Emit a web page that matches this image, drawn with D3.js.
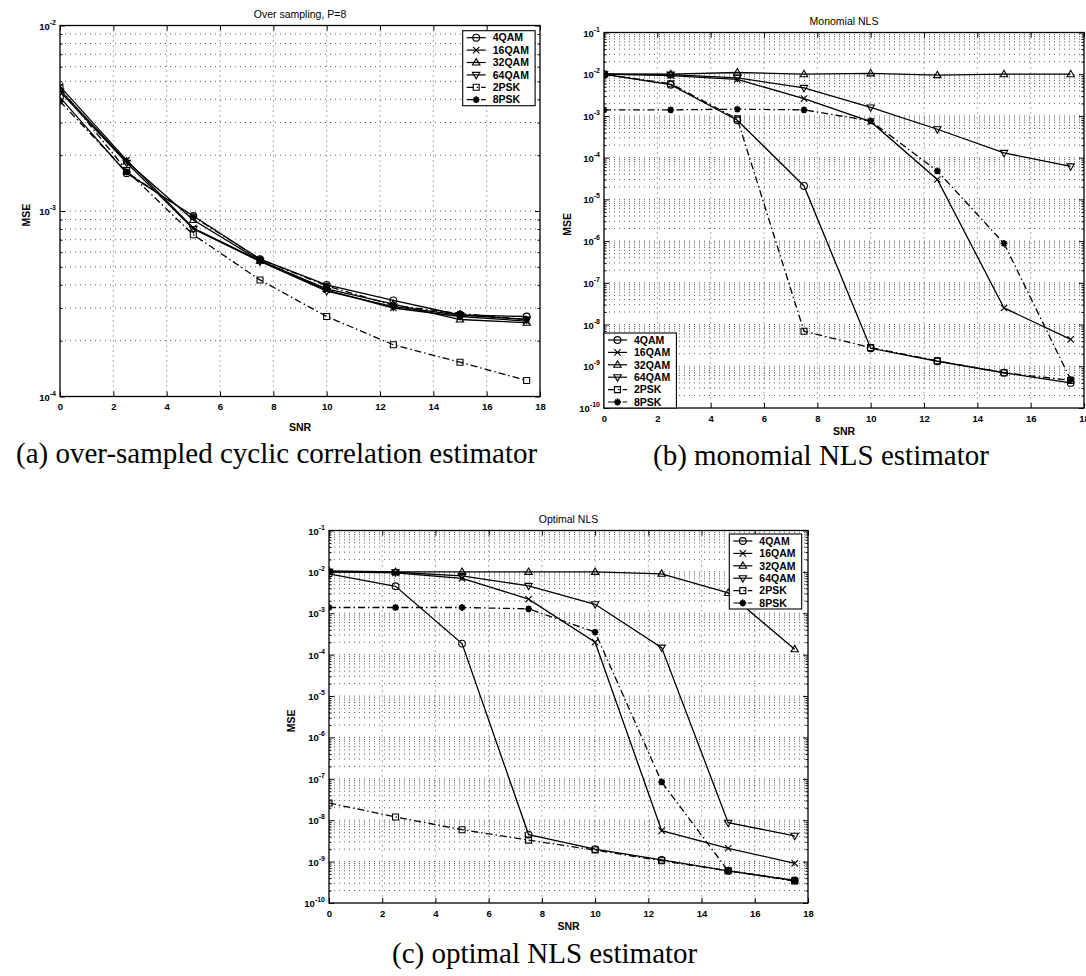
<!DOCTYPE html>
<html>
<head>
<meta charset="utf-8">
<script src="https://cdn.jsdelivr.net/npm/d3@7"></script>
<style>
  body { margin: 0; background: #fff; }
  svg { display: block; font-family: "Liberation Sans", Arial, sans-serif; }
  .grid { stroke: #333; stroke-width: 0.8; stroke-dasharray: 1,4; }
  .caption { font-family: "Liberation Serif", "Times New Roman", serif; font-size: 29px; }
</style>
</head>
<body>
<svg id="chart" width="1086" height="976"></svg>
<script>
// SNR values (x) shared by every panel
const snr = [0, 2.5, 5, 7.5, 10, 12.5, 15, 17.5];
const seriesNames = ["4QAM", "16QAM", "32QAM", "64QAM", "2PSK", "8PSK"];
const xTicks = [0, 2, 4, 6, 8, 10, 12, 14, 16, 18];

// (a) over-sampled cyclic correlation, one row per series (seriesNames order)
const overMSE = [
  [4.1e-3, 1.6e-3, 9.4e-4, 5.5e-4, 4.0e-4, 3.3e-4, 2.75e-4, 2.7e-4],
  [4.7e-3, 1.88e-3, 8.1e-4, 5.4e-4, 3.75e-4, 3.0e-4, 2.7e-4, 2.55e-4],
  [4.5e-3, 1.85e-3, 8.95e-4, 5.4e-4, 3.8e-4, 3.15e-4, 2.6e-4, 2.5e-4],
  [4.4e-3, 1.82e-3, 8.0e-4, 5.35e-4, 3.7e-4, 3.05e-4, 2.75e-4, 2.6e-4],
  [4.6e-3, 1.65e-3, 7.45e-4, 4.25e-4, 2.7e-4, 1.9e-4, 1.53e-4, 1.22e-4],
  [3.9e-3, 1.62e-3, 9.3e-4, 5.5e-4, 3.95e-4, 3.1e-4, 2.8e-4, 2.6e-4]
];
const overExps = [-4, -3, -2];

// (b) monomial NLS
const monoMSE = [
  [1.0e-2, 5.6e-3, 7.9e-4, 2.1e-5, 2.7e-9, 1.32e-9, 7.0e-10, 4.0e-10],
  [1.0e-2, 9.3e-3, 7.5e-3, 2.6e-3, 7.3e-4, 3.0e-5, 2.5e-8, 4.4e-9],
  [1.0e-2, 1.0e-2, 1.1e-2, 1.0e-2, 1.05e-2, 9.5e-3, 1.0e-2, 1.0e-2],
  [1.0e-2, 9.8e-3, 8.2e-3, 4.7e-3, 1.6e-3, 4.8e-4, 1.3e-4, 6.2e-5],
  [1.0e-2, 5.9e-3, 8.5e-4, 6.9e-9, 2.8e-9, 1.35e-9, 7.0e-10, 4.6e-10],
  [1.4e-3, 1.4e-3, 1.45e-3, 1.4e-3, 7.6e-4, 4.8e-5, 8.8e-7, 4.8e-10]
];

// (c) optimal NLS
const optMSE = [
  [9.0e-3, 4.5e-3, 1.85e-4, 4.5e-9, 2.0e-9, 1.1e-9, 6.0e-10, 3.5e-10],
  [1.0e-2, 9.5e-3, 7.0e-3, 2.2e-3, 2.0e-4, 5.6e-9, 2.1e-9, 9.1e-10],
  [1.05e-2, 1.0e-2, 1.0e-2, 1.0e-2, 1.0e-2, 9.0e-3, 3.1e-3, 1.35e-4],
  [1.0e-2, 9.8e-3, 8.0e-3, 4.6e-3, 1.65e-3, 1.48e-4, 8.7e-9, 4.2e-9],
  [2.6e-8, 1.2e-8, 5.9e-9, 3.3e-9, 1.9e-9, 1.05e-9, 6.0e-10, 3.4e-10],
  [1.38e-3, 1.38e-3, 1.38e-3, 1.28e-3, 3.5e-4, 8.4e-8, 6.0e-10, 3.5e-10]
];
const nlsExps = [-10, -9, -8, -7, -6, -5, -4, -3, -2, -1];

const svg = d3.select("#chart");
const defs = svg.append("defs");

// marker outlines, centred on 0,0
const markerPath = {
  "4QAM": d3.symbol(d3.symbolCircle, 36)(),
  "16QAM": "M-3.2,-3.2L3.2,3.2M-3.2,3.2L3.2,-3.2",
  "32QAM": "M0,-3.9L3.7,2.5L-3.7,2.5Z",
  "64QAM": "M0,3.9L3.7,-2.5L-3.7,-2.5Z",
  "2PSK": "M-3,-3H3V3H-3Z",
  "8PSK": "M0,-3.4V3.4M-3.4,0H3.4M-2.4,-2.4L2.4,2.4M-2.4,2.4L2.4,-2.4"
};
const dashOf = name => name.endsWith("PSK") ? "7,3,1.5,3" : null;

function drawMarker(sel, name) {
  sel.append("path")
    .attr("d", markerPath[name])
    .attr("fill", "none")
    .attr("stroke", "#000")
    .attr("stroke-width", name === "8PSK" ? 1.8 : 1.1);
}

function drawPanel(p, mse) {
  const x = d3.scaleLinear().domain([0, 18]).range([p.left, p.right]);
  const y = d3.scaleLog()
    .domain([Math.pow(10, p.exps[0]), Math.pow(10, p.exps[p.exps.length - 1])])
    .range([p.bottom, p.top]);
  const decades = p.exps.map(e => Math.pow(10, e));
  const minors = [];
  p.exps.slice(0, -1).forEach(e => d3.range(2, 10).forEach(k => minors.push(k * Math.pow(10, e))));

  const g = svg.append("g");

  defs.append("clipPath").attr("id", "clip-" + p.id)
    .append("rect")
    .attr("x", p.left).attr("y", p.top)
    .attr("width", p.right - p.left).attr("height", p.bottom - p.top);

  // dotted grid
  g.append("g").selectAll("line").data(xTicks.slice(1, -1)).join("line")
    .attr("class", "grid")
    .attr("x1", d => x(d)).attr("x2", d => x(d))
    .attr("y1", p.top).attr("y2", p.bottom);
  g.append("g").selectAll("line").data(decades.slice(1, -1).concat(minors)).join("line")
    .attr("class", "grid")
    .attr("x1", p.left).attr("x2", p.right)
    .attr("y1", d => y(d)).attr("y2", d => y(d));

  // inward ticks on all four sides
  const axes = g.append("g");
  axes.append("g").attr("transform", `translate(0,${p.bottom})`)
    .call(d3.axisBottom(x).tickValues(xTicks).tickSize(-5).tickSizeOuter(0).tickPadding(7));
  axes.append("g").attr("transform", `translate(0,${p.top})`)
    .call(d3.axisTop(x).tickValues(xTicks).tickSize(-5).tickSizeOuter(0).tickFormat(""));
  axes.append("g").attr("transform", `translate(${p.left},0)`)
    .call(d3.axisLeft(y).tickValues(decades).tickSize(-5).tickSizeOuter(0).tickFormat(""));
  axes.append("g").attr("transform", `translate(${p.left},0)`)
    .call(d3.axisLeft(y).tickValues(minors).tickSize(-2.5).tickSizeOuter(0).tickFormat(""));
  axes.append("g").attr("transform", `translate(${p.right},0)`)
    .call(d3.axisRight(y).tickValues(decades).tickSize(-5).tickSizeOuter(0).tickFormat(""));
  axes.append("g").attr("transform", `translate(${p.right},0)`)
    .call(d3.axisRight(y).tickValues(minors).tickSize(-2.5).tickSizeOuter(0).tickFormat(""));
  axes.selectAll(".domain").remove();
  axes.selectAll(".tick line").attr("stroke", "#000");
  axes.selectAll(".tick text")
    .attr("font-family", "Liberation Sans, Arial, sans-serif")
    .attr("font-size", 9.5).attr("font-weight", "bold").attr("fill", "#000");

  // y labels as 10 with superscript exponent
  const lab = g.append("g").selectAll("text").data(p.exps).join("text")
    .attr("x", p.left - 4)
    .attr("y", d => y(Math.pow(10, d)) + 4)
    .attr("text-anchor", "end")
    .attr("font-size", 9.5).attr("font-weight", "bold");
  lab.append("tspan").text("10");
  lab.append("tspan").attr("dy", -5).attr("font-size", 7).text(d => "-" + (-d));

  // box
  g.append("rect")
    .attr("x", p.left).attr("y", p.top)
    .attr("width", p.right - p.left).attr("height", p.bottom - p.top)
    .attr("fill", "none").attr("stroke", "#000").attr("stroke-width", 1.3);

  // series
  const line = d3.line().x((d, i) => x(snr[i])).y(d => y(d));
  const plot = g.append("g").attr("clip-path", `url(#clip-${p.id})`);
  mse.forEach((vals, s) => {
    const name = seriesNames[s];
    plot.append("path").datum(vals)
      .attr("d", line)
      .attr("fill", "none").attr("stroke", "#000").attr("stroke-width", 1.3)
      .attr("stroke-dasharray", dashOf(name));
    plot.append("g").selectAll("g").data(vals).join("g")
      .attr("transform", (d, i) => `translate(${x(snr[i])},${y(d)})`)
      .each(function() { drawMarker(d3.select(this), name); });
  });

  // legend
  const lg = g.append("g").attr("transform", `translate(${p.legend[0]},${p.legend[1]})`);
  lg.append("rect").attr("width", 72.4).attr("height", 75)
    .attr("fill", "#fff").attr("stroke", "#000").attr("stroke-width", 1.1);
  seriesNames.forEach((name, i) => {
    const row = lg.append("g").attr("transform", `translate(0,${7 + i * 12.4})`);
    row.append("line").attr("x1", 4).attr("x2", 23)
      .attr("stroke", "#000").attr("stroke-width", 1.2)
      .attr("stroke-dasharray", dashOf(name));
    drawMarker(row.append("g").attr("transform", "translate(13.5,0)"), name);
    row.append("text").attr("x", 30).attr("y", 3.7)
      .attr("font-size", 10.5).attr("font-weight", "bold").text(name);
  });

  // title and axis labels
  g.append("text")
    .attr("x", (p.left + p.right) / 2).attr("y", p.top - 8)
    .attr("text-anchor", "middle").attr("font-size", 10.5)
    .text(p.title);
  g.append("text")
    .attr("x", (p.left + p.right) / 2).attr("y", p.bottom + p.snrGap)
    .attr("text-anchor", "middle").attr("font-size", 10.5).attr("font-weight", "bold")
    .text("SNR");
  g.append("text")
    .attr("transform", `translate(${p.left - p.mseGap},${(p.top + p.bottom) / 2 + 4}) rotate(-90)`)
    .attr("text-anchor", "middle").attr("font-size", 10.5).attr("font-weight", "bold")
    .text("MSE");

  // caption under the figure
  svg.append("text").attr("class", "caption")
    .attr("x", p.caption[0]).attr("y", p.caption[1])
    .text(p.captionText);
}

drawPanel({
  id: "a", left: 60, right: 540, top: 25.5, bottom: 396.5, exps: overExps,
  title: "Over sampling, P=8", legend: [462.7, 30.7], snrGap: 34, mseGap: 30,
  caption: [16, 463], captionText: "(a) over-sampled cyclic correlation estimator"
}, overMSE);

drawPanel({
  id: "b", left: 604, right: 1084, top: 32.5, bottom: 408, exps: nlsExps,
  title: "Monomial NLS", legend: [604, 333], snrGap: 27, mseGap: 33,
  caption: [653, 465], captionText: "(b) monomial NLS estimator"
}, monoMSE);

drawPanel({
  id: "c", left: 329, right: 808, top: 530.5, bottom: 903, exps: nlsExps,
  title: "Optimal NLS", legend: [729.3, 534], snrGap: 27, mseGap: 34,
  caption: [392, 963], captionText: "(c) optimal NLS estimator"
}, optMSE);
</script>
</body>
</html>
